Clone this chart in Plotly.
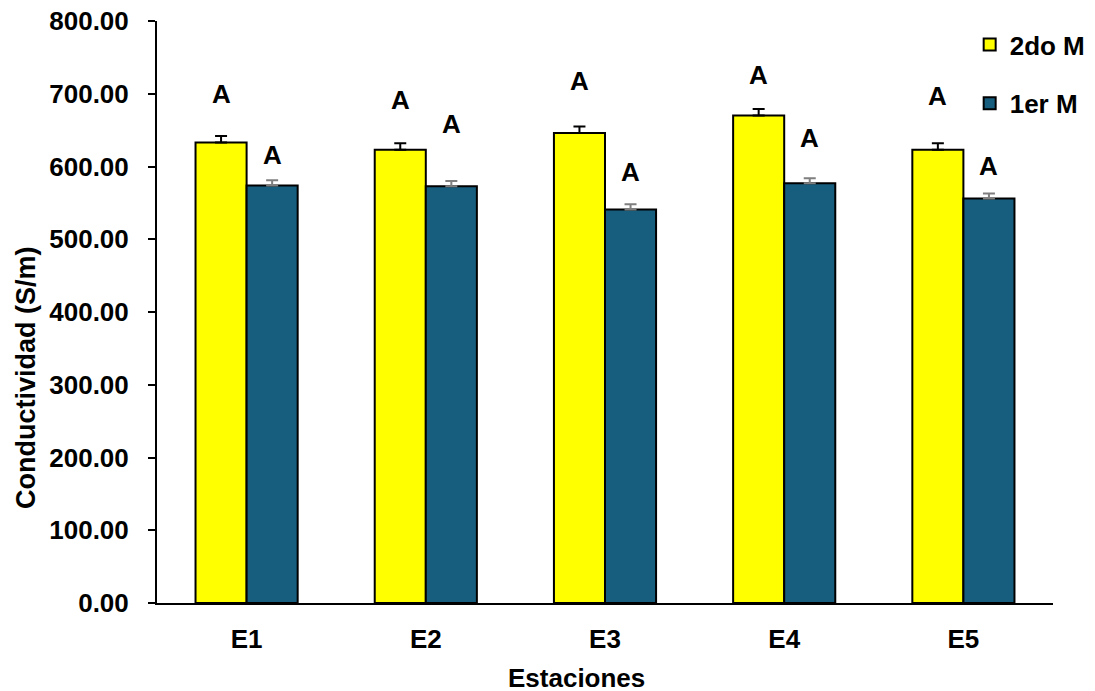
import plotly.graph_objects as go

# Conductividad por estacion, dos muestreos
estaciones = ["E1", "E2", "E3", "E4", "E5"]
segundo_m = [633, 623, 646, 670, 623]
primer_m = [574, 573, 541, 577, 556]
err_segundo = [9, 9, 9, 9, 9]
err_primer = [7, 7, 7, 7, 7]

# letras de significancia y la altura donde van
letras_segundo = ["A", "A", "A", "A", "A"]
letras_primer = ["A", "A", "A", "A", "A"]
y_letras_segundo = [700, 692, 718, 726, 697]
y_letras_primer = [616, 658, 593, 639, 601]

FONT = "Liberation Sans, Arial, sans-serif"
AMARILLO = "#FFFF00"
AZUL = "#175E7E"
bargap = 0.43

fig = go.Figure()
fig.add_trace(go.Bar(
    x=estaciones, y=segundo_m, name="<b>2do M</b>", legendgroup="a",
    marker=dict(color=AMARILLO, line=dict(color="black", width=2)),
    error_y=dict(type="data", symmetric=False, array=err_segundo, arrayminus=[0] * 5,
                 color="black", thickness=2, width=6),
))
fig.add_trace(go.Bar(
    x=estaciones, y=primer_m, name="<b>1er M</b>", legendgroup="b",
    marker=dict(color=AZUL, line=dict(color="black", width=2)),
    error_y=dict(type="data", symmetric=False, array=err_primer, arrayminus=[0] * 5,
                 color="#7f7f7f", thickness=2, width=6),
))

# letras encima de cada barra
off = (1 - bargap) / 4
for i in range(len(estaciones)):
    fig.add_annotation(x=i - off, y=y_letras_segundo[i], text="<b>" + letras_segundo[i] + "</b>",
                       showarrow=False, font=dict(size=26, color="black", family=FONT))
    fig.add_annotation(x=i + off, y=y_letras_primer[i], text="<b>" + letras_primer[i] + "</b>",
                       showarrow=False, font=dict(size=26, color="black", family=FONT))

# titulos de ejes como anotaciones (no van centrados en el original)
fig.add_annotation(xref="paper", yref="paper", x=0.468, y=-0.129, yanchor="middle",
                   text="<b>Estaciones</b>", showarrow=False,
                   font=dict(size=26, color="black", family=FONT))
fig.add_annotation(xref="paper", yref="paper", x=-0.1465, y=0.388, xanchor="center",
                   yanchor="middle", textangle=-90,
                   text="<b>Conductividad (S/m)</b>", showarrow=False,
                   font=dict(size=27, color="black", family=FONT))

# margenes compensando el margen de la pagina
fig.update_layout(
    width=1095, height=691,
    margin=dict(l=149, r=27, t=13, b=96),
    paper_bgcolor="white", plot_bgcolor="white",
    barmode="group", bargap=bargap, bargroupgap=0,
    font=dict(family=FONT, size=26, color="black"),
    legend=dict(x=0.907, y=1.0, xanchor="left", yanchor="top",
                bgcolor="rgba(0,0,0,0)", tracegroupgap=22,
                font=dict(size=26, family=FONT)),
    showlegend=True,
)
fig.update_xaxes(
    automargin=False,
    showline=True, linecolor="black", linewidth=2, ticks="",
    ticklabelstandoff=12,
    tickprefix="<b>", ticksuffix="</b>",
    tickfont=dict(size=26),
)
fig.update_yaxes(
    automargin=False,
    range=[0, 800], dtick=100, tickformat=".2f",
    showline=True, linecolor="black", linewidth=2,
    ticks="outside", ticklen=7, tickwidth=2, tickcolor="black",
    ticklabelstandoff=14, ticklabeloverflow="allow",
    showgrid=False, zeroline=False,
    tickprefix="<b>", ticksuffix="</b>",
    tickfont=dict(size=26),
)

fig.write_html("out.html")
